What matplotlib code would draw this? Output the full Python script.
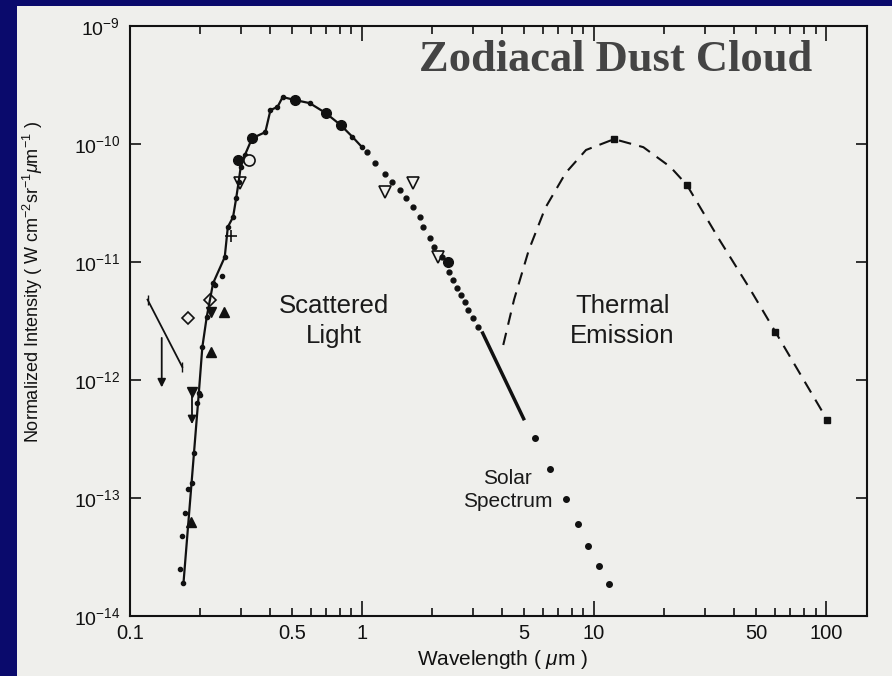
import numpy as np
import matplotlib
matplotlib.use("Agg")
import matplotlib.pyplot as plt
from matplotlib.patches import Rectangle

plt.rcParams['font.family'] = ['Liberation Sans', 'DejaVu Sans']
plt.rcParams['mathtext.fontset'] = 'custom'
plt.rcParams['mathtext.rm'] = 'Liberation Sans'
plt.rcParams['mathtext.it'] = 'Liberation Sans:italic'

# scattered light curve (wavelength in um, intensity)
sc_wl = [0.170, 0.198, 0.205, 0.214, 0.228, 0.256, 0.264, 0.278, 0.287, 0.294, 0.300, 0.313,
         0.336, 0.383, 0.403, 0.432, 0.455, 0.513, 0.595, 0.697, 0.808, 0.909, 1.00]
sc_I = [1.9e-14, 7.8e-13, 1.9e-12, 3.4e-12, 6.6e-12, 1.1e-11, 1.98e-11, 2.4e-11, 3.5e-11, 4.8e-11,
        6.4e-11, 8.1e-11, 1.12e-10, 1.26e-10, 1.94e-10, 2.06e-10, 2.5e-10, 2.36e-10, 2.22e-10,
        1.83e-10, 1.45e-10, 1.15e-10, 9.4e-11]
# small dots on/near the rising edge
dot_wl = [0.177, 0.185, 0.189, 0.194, 0.200, 0.233, 0.248, 0.172, 0.168, 0.164]
dot_I = [1.19e-13, 1.34e-13, 2.4e-13, 6.4e-13, 7.5e-13, 6.4e-12, 7.6e-12, 7.5e-14, 4.8e-14, 2.5e-14]

# solar spectrum (dotted)
sol_wl = [1.05, 1.14, 1.26, 1.35, 1.46, 1.55, 1.66, 1.77, 1.84, 1.97, 2.05, 2.20, 2.37, 2.47,
          2.56, 2.67, 2.77, 2.86, 3.00, 3.15]
sol_I = [8.6e-11, 6.9e-11, 5.6e-11, 4.8e-11, 4.1e-11, 3.5e-11, 2.9e-11, 2.4e-11, 1.98e-11, 1.6e-11,
         1.34e-11, 1.1e-11, 8.2e-12, 7.0e-12, 6.0e-12, 5.3e-12, 4.6e-12, 3.9e-12, 3.35e-12, 2.8e-12]
sol_seg_wl = [3.31, 4.97]
sol_seg_I = [2.5e-12, 4.7e-13]
sol_far_wl = [5.58, 6.46, 7.55, 8.49, 9.44, 10.5, 11.6]
sol_far_I = [3.2e-13, 1.76e-13, 9.8e-14, 6.0e-14, 3.9e-14, 2.65e-14, 1.87e-14]

# other observations
big_wl = [0.291, 0.336, 0.513, 0.697, 0.808, 2.35]
big_I = [7.3e-11, 1.12e-10, 2.36e-10, 1.83e-10, 1.45e-10, 1.0e-11]
tri_dn_open_wl = [0.297, 1.26, 1.66, 2.13]
tri_dn_open_I = [4.7e-11, 3.9e-11, 4.7e-11, 1.1e-11]
circ_open_wl = [0.325]
circ_open_I = [7.3e-11]
diam_wl = [0.177, 0.221]
diam_I = [3.35e-12, 4.8e-12]
tri_up_wl = [0.254, 0.224, 0.184]
tri_up_I = [3.8e-12, 1.73e-12, 6.3e-14]
tri_dn_wl = [0.223, 0.185]
tri_dn_I = [3.8e-12, 7.9e-13]
plus_wl = [0.272]
plus_I = [1.66e-11]
rocket_wl = [0.119, 0.168]
rocket_I = [4.8e-12, 1.29e-12]
ul_wl = [0.137, 0.185]
ul_top = [2.4e-12, 7.9e-13]
ul_bot = [8.2e-13, 4.0e-13]

# thermal emission
th_wl = [4.06, 4.52, 5.23, 6.16, 7.55, 9.23, 12.2, 16.3, 21.3, 25.1, 34.7, 46.5, 60.5, 101]
th_I = [1.98e-12, 4.8e-12, 1.26e-11, 2.87e-11, 5.7e-11, 8.9e-11, 1.10e-10, 9.4e-11, 6.4e-11,
        4.5e-11, 1.54e-11, 6.1e-12, 2.55e-12, 4.6e-13]
th_sq_wl = [12.2, 25.1, 60.5, 101]
th_sq_I = [1.10e-10, 4.5e-11, 2.55e-12, 4.6e-13]

fig = plt.figure(figsize=(8.92, 6.76), dpi=100)
fig.patch.set_facecolor('#0a0a6c')
panel = Rectangle((17/892, 0), 1, 1 - 6/676, transform=fig.transFigure,
                  facecolor='#efefec', edgecolor='none', zorder=-10)
fig.add_artist(panel)
ax = fig.add_axes([130/892, 60/676, 737/892, 590/676])
ax.set_facecolor('none')
ax.set_xscale('log'); ax.set_yscale('log')
ax.set_xlim(0.1, 150); ax.set_ylim(1e-14, 1e-9)

k = '#111111'
ax.plot(sc_wl, sc_I, '-', color=k, lw=1.6, marker='o', ms=3)
ax.plot(dot_wl, dot_I, 'o', color=k, ms=3)
ax.plot(sol_wl, sol_I, 'o', color=k, ms=3.5)
ax.plot(sol_seg_wl, sol_seg_I, '-', color=k, lw=2.5)
ax.plot(sol_far_wl, sol_far_I, 'o', color=k, ms=4)
ax.plot(big_wl, big_I, 'o', color=k, ms=7)
ax.plot(tri_dn_open_wl, tri_dn_open_I, 'v', mfc='none', mec=k, mew=1.2, ms=8)
ax.plot(circ_open_wl, circ_open_I, 'o', mfc='#efefec', mec=k, mew=1.2, ms=8)
ax.plot(diam_wl, diam_I, 'D', mfc='none', mec=k, mew=1.2, ms=6)
ax.plot(tri_up_wl, tri_up_I, '^', color=k, ms=7)
ax.plot(tri_dn_wl, tri_dn_I, 'v', color=k, ms=7)
ax.plot(plus_wl, plus_I, '+', color=k, ms=8, mew=1.2)
ax.plot(rocket_wl, rocket_I, '-', color=k, lw=1.3, marker='|', ms=7)
for x, y0, y1 in zip(ul_wl, ul_top, ul_bot):
    ax.annotate('', xy=(x, y1), xytext=(x, y0),
                arrowprops=dict(arrowstyle='-|>', color=k, lw=1.3, mutation_scale=12))
ax.plot(th_wl, th_I, '--', color=k, lw=1.5, dashes=(6, 4))
ax.plot(th_sq_wl, th_sq_I, 's', color=k, ms=5)

ax.text(0.277, 0.50, 'Scattered\nLight', transform=ax.transAxes, ha='center', va='center',
        fontsize=18.5, color='#1a1a1a', linespacing=1.3)
ax.text(0.668, 0.50, 'Thermal\nEmission', transform=ax.transAxes, ha='center', va='center',
        fontsize=18.5, color='#1a1a1a', linespacing=1.3)
ax.text(0.512, 0.214, 'Solar\nSpectrum', transform=ax.transAxes, ha='center', va='center',
        fontsize=15, color='#1a1a1a', linespacing=1.25)
ax.text(0.659, 0.942, 'Zodiacal Dust Cloud', transform=ax.transAxes, ha='center', va='center',
        fontsize=32, fontweight='bold', family='Liberation Serif', color='#444444')

ax.set_xticks([0.1, 1, 10, 100])
ax.set_xticklabels(['0.1', '1', '10', '100'])
minor = [m * d for d in [0.1, 1, 10] for m in range(2, 10)]
ax.set_xticks(minor, minor=True)
ax.set_xticklabels(['0.5' if abs(v - 0.5) < 1e-9 else '5' if abs(v - 5) < 1e-9 else
                    '50' if abs(v - 50) < 1e-9 else '' for v in minor], minor=True)
ax.set_yticks([1e-14, 1e-13, 1e-12, 1e-11, 1e-10, 1e-9])
ax.yaxis.set_minor_locator(matplotlib.ticker.NullLocator())
ax.tick_params(axis='x', which='major', direction='in', length=11, width=1.2, top=True,
               labelsize=14.5, pad=6, colors=k)
ax.tick_params(axis='x', which='minor', direction='in', length=6, width=1.2, top=True,
               labelsize=14.5, pad=6, colors=k)
ax.tick_params(axis='y', which='major', direction='in', length=8, width=1.2, right=True,
               labelsize=14, pad=7, colors=k)
for s in ax.spines.values():
    s.set_linewidth(1.5); s.set_color(k)

ax.set_xlabel('Wavelength ( $\\mu$m )', fontsize=15, color=k)
ax.xaxis.set_label_coords(0.505, -0.054)
ax.set_ylabel('Normalized Intensity ( W cm$^{-2}$sr$^{-1}$$\\mu$m$^{-1}$ )', fontsize=13, color=k)
ax.yaxis.set_label_coords(-0.115, 0.566)

fig.savefig('out.png', dpi=100, facecolor=fig.get_facecolor())
